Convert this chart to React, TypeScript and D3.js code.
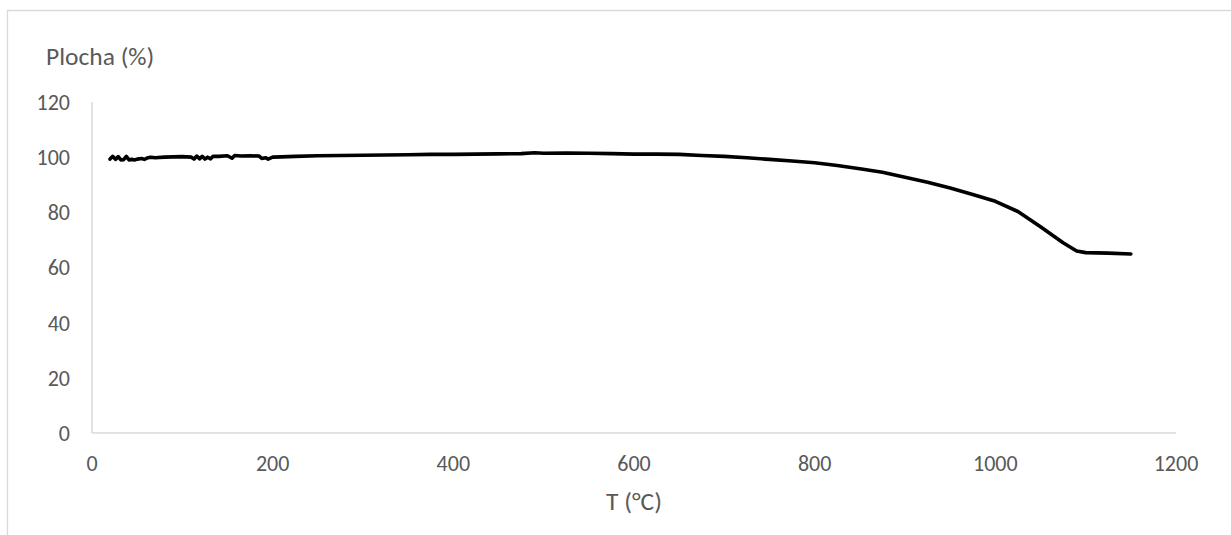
import React from "react";
import * as d3 from "d3";

const temps = [20,23,26,29,32,35,38,41,44,47,50,55,58,62,65,70,80,90,100,110,113,116,119,122,125,128,131,134,140,150,155,158,165,175,185,188,192,195,200,210,225,250,275,300,325,350,375,400,425,450,475,490,500,525,550,575,600,625,650,675,700,725,750,775,800,825,850,875,900,925,950,975,1000,1025,1050,1075,1090,1100,1125,1150];
const plocha = [99.3,100.3,99.2,100.2,99.0,99.1,100.3,99.0,99.2,99.0,99.3,99.5,99.2,99.8,100.0,99.8,100.0,100.1,100.2,100.0,99.3,100.4,99.4,100.3,99.3,100.0,99.4,100.3,100.3,100.5,99.6,100.6,100.4,100.5,100.4,99.5,99.8,99.3,100.0,100.1,100.3,100.5,100.6,100.7,100.8,100.9,101.0,101.0,101.1,101.2,101.3,101.6,101.4,101.5,101.4,101.3,101.1,101.1,101.0,100.6,100.3,99.8,99.2,98.6,98.0,97.0,95.8,94.5,92.7,90.9,88.8,86.5,84.0,80.3,74.8,69.0,66.0,65.4,65.2,64.9];
const xTicks = [0,200,400,600,800,1000,1200];
const yTicks = [0,20,40,60,80,100,120];
const xTitle = "T (°C)";
const yTitle = "Plocha (%)";

export default function App() {
  const x = d3.scaleLinear().domain([0, 1200]).range([92, 1176]);
  const y = d3.scaleLinear().domain([0, 120]).range([433, 102]);
  const pts = temps.map((t, i) => [t, plocha[i]] as [number, number]);
  const line = d3.line<[number, number]>().x(d => x(d[0])).y(d => y(d[1]));
  const font = "Calibri, Carlito, Lato, sans-serif";
  const col = "#595959";
  return (
    <svg width={1231} height={535} style={{ position: "absolute", left: 0, top: 0, background: "#fff" }}>
      <rect x={0} y={0} width={1231} height={535} fill="#fff" />
      <path d="M7.5,540 V10.5 H1240" fill="none" stroke="#d9d9d9" strokeWidth={1.3} />
      <line x1={x(0)} x2={x(0)} y1={y(120)} y2={y(0)} stroke="#d9d9d9" strokeWidth={1.5} />
      <line x1={x(0)} x2={x(1200)} y1={y(0)} y2={y(0)} stroke="#d9d9d9" strokeWidth={1.5} />
      {yTicks.map(t => (
        <text key={t} x={70} y={y(t)} dy="0.36em" textAnchor="end" fontFamily={font} fontSize={22} fill={col}>{t}</text>
      ))}
      {xTicks.map(t => (
        <text key={t} x={x(t)} y={471} textAnchor="middle" fontFamily={font} fontSize={22} fill={col}>{t}</text>
      ))}
      <text x={46} y={65} fontFamily={font} fontSize={25.5} fill={col}>{yTitle}</text>
      <text x={634} y={510} textAnchor="middle" fontFamily={font} fontSize={25.5} fill={col}>{xTitle}</text>
      <path d={line(pts) || ""} fill="none" stroke="#000" strokeWidth={3.6} strokeLinejoin="round" strokeLinecap="round" />
    </svg>
  );
}
